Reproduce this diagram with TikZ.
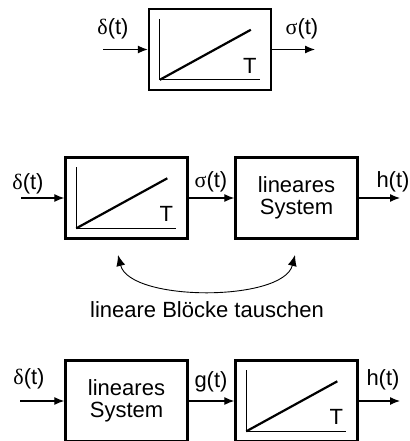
\documentclass[tikz,border=0pt]{standalone}
\usepackage{fontspec}
\setmainfont{Liberation Sans}
\newfontfamily\grk{Liberation Serif}
\usetikzlibrary{arrows.meta,calc}
\tikzset{
  blk/.style={draw, line width=2.4pt, minimum width=122pt, minimum height=81pt,
    inner sep=0pt, font=\fontsize{22}{22}\selectfont, align=center},
  lbl/.style={inner sep=0pt, font=\fontsize{22}{22}\selectfont},
  sig/.style={line width=1.2pt, -{Latex[length=10pt,width=8pt]}},
  swaparrow/.style={line width=0.9pt, {Latex[length=11pt,width=9pt]}-{Latex[length=11pt,width=9pt]}},
  axisline/.style={line width=0.9pt},
  rampline/.style={line width=2.2pt},
}
\newcommand{\rampin}[1]{%
  \draw[axisline] ($(#1.north west)+(12,11)$) coordinate (#1v)
     -- ($(#1.north west)+(12,72)$) coordinate (#1o)
     -- ($(#1.north west)+(112,72)$) coordinate (#1h);
  \draw[rampline] (#1o) -- ($(#1.north west)+(103,22)$) coordinate (#1r);
  \node[lbl] (#1T) at ($(#1.north west)+(102,58)$) {T};
}
\begin{document}
\begin{tikzpicture}[x=1pt,y=-1pt]
\useasboundingbox (0,0) rectangle (409,441);
% top row
\node[blk] (top) at (210,49.5) {};
\rampin{top}
\coordinate (in1) at (103,49.5);
\coordinate (out1) at (315,49.5);
\draw[sig] (in1) -- (top.west);
\draw[sig] (top.east) -- (out1);
\node[lbl] (d1) at (113,29) {{\grk δ}(t)};
\node[lbl] (s1) at (302,29) {{\grk σ}(t)};
% middle row
\node[blk] (m1) at (126.5,198) {};
\rampin{m1}
\node[blk] (m2) at (296.5,198) {lineares\\System};
\coordinate (in2) at (21,198);
\coordinate (out2) at (400,198);
\draw[sig] (in2) -- (m1.west);
\draw[sig] (m1.east) -- (m2.west);
\draw[sig] (m2.east) -- (out2);
\node[lbl] (d2) at (28,184) {{\grk δ}(t)};
\node[lbl] (s2) at (211,182) {{\grk σ}(t)};
\node[lbl] (h2) at (393,182) {h(t)};
% swap arrow
\coordinate (cl) at (118,255);
\coordinate (cr) at (295,255);
\draw[swaparrow] (cl) .. controls (130,302) and (283,302) .. (cr);
\node[lbl] (swap) at (207,310) {lineare Blöcke tauschen};
% bottom row
\node[blk] (b1) at (126.5,401) {lineares\\System};
\node[blk] (b2) at (296.5,401) {};
\rampin{b2}
\coordinate (in3) at (20,401);
\coordinate (out3) at (400,401);
\draw[sig] (in3) -- (b1.west);
\draw[sig] (b1.east) -- (b2.west);
\draw[sig] (b2.east) -- (out3);
\node[lbl] (d3) at (29,379) {{\grk δ}(t)};
\node[lbl] (g3) at (211,382) {g(t)};
\node[lbl] (h3) at (383,380) {h(t)};
\end{tikzpicture}
\end{document}
